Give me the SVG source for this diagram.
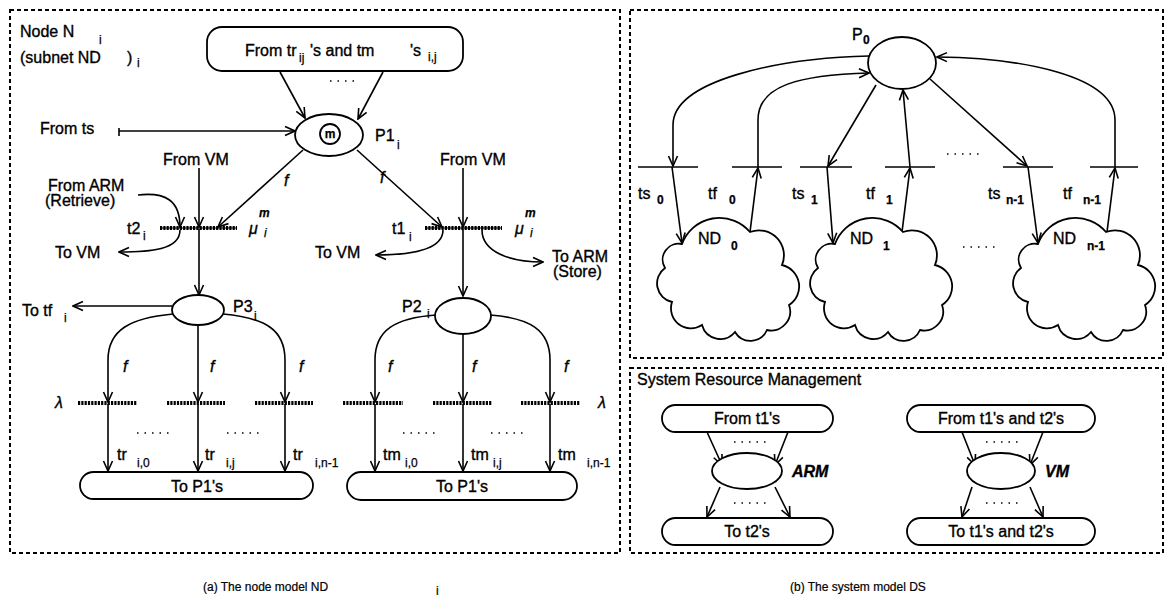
<svg xmlns="http://www.w3.org/2000/svg" width="1167" height="603" viewBox="0 0 1167 603">
<style>
.t{font-family:"Liberation Sans",Arial,sans-serif;font-size:16px;fill:#000;stroke:#000;stroke-width:0.35}
.s{font-family:"Liberation Sans",Arial,sans-serif;font-size:12px;fill:#000;stroke:#000;stroke-width:0.25}
.i{font-style:italic}
.c{font-family:"Liberation Sans",Arial,sans-serif;font-size:12px;fill:#000;stroke:#000;stroke-width:0.2}
.m{text-anchor:middle}
.ln{fill:none;stroke:#000;stroke-width:1.6}
.ar{fill:none;stroke:#000;stroke-width:1.6;marker-end:url(#ah)}
.pl{fill:#fff;stroke:#000;stroke-width:1.8}
.box{fill:#fff;stroke:#000;stroke-width:1.8}
.bd{fill:none;stroke:#000;stroke-width:2;stroke-dasharray:4 3}
.bar{stroke:#000;stroke-width:4;stroke-dasharray:2.2 1.1}
.barc{stroke:#000;stroke-width:1.2}
.tb{stroke:#000;stroke-width:1.6}
.dot{stroke:#000;stroke-width:1.4;stroke-dasharray:1.5 6}
</style>
<defs>
<marker id="ah" markerWidth="12" markerHeight="12" viewBox="0 0 12 12" refX="11" refY="6" orient="auto" markerUnits="userSpaceOnUse"><path d="M1,1.5 L11,6 L1,10.5" fill="none" stroke="#000" stroke-width="1.6"/></marker>
<path id="cloud" d="M-45,-36 A40,40 0 0 1 23,-48 A25,25 0 0 1 55,-15 A22,22 0 0 1 62,25 A19,19 0 0 1 40,50 A18,18 0 0 1 8,52 A19,19 0 0 1 -25,45 A20,20 0 0 1 -55,22 A19,19 0 0 1 -62,-12 A16,16 0 0 1 -45,-36 Z" fill="#fff" stroke="#000" stroke-width="1.8"/>
</defs>
<rect width="1167" height="603" fill="#fff"/>

<!-- panel borders -->
<g id="borders">
<rect class="bd" x="10" y="10" width="610" height="543"/>
<rect class="bd" x="630" y="10" width="533" height="348"/>
<rect class="bd" x="630" y="368" width="533" height="185"/>
</g>

<!-- connectors -->
<g id="connectors">
<path class="ar" d="M280,72 L305,118"/>
<path class="ar" d="M383,72 L358,119"/>
<path class="ar" d="M119,131 L295,131"/>
<path class="ln" d="M119,128 L119,136"/>
<path class="ar" d="M199,168 L199,227"/>
<path class="ar" d="M199,229 L199,295"/>
<path class="ar" d="M138,195 C165,192 180,200 180,227"/>
<path class="ar" d="M303,150 L218,227"/>
<path class="ar" d="M180,230 C180,250 150,252 119,252"/>
<path class="ar" d="M172,306 L73,306"/>
<path class="ar" d="M173,314 C130,318 108,330 108,360 L108,402"/>
<path class="ar" d="M198,325 L198,402"/>
<path class="ar" d="M223,314 C266,318 285,330 285,360 L285,402"/>
<path class="ar" d="M108,404 L108,471"/>
<path class="ar" d="M198,404 L198,471"/>
<path class="ar" d="M285,404 L285,471"/>
<path class="ar" d="M463,168 L463,227"/>
<path class="ar" d="M463,229 L463,296"/>
<path class="ar" d="M357,150 L442,227"/>
<path class="ar" d="M443,230 C443,250 410,255 376,255"/>
<path class="ar" d="M482,230 C482,252 510,262 543,262"/>
<path class="ar" d="M436,315 C395,318 375,330 375,360 L375,402"/>
<path class="ar" d="M463,334 L463,402"/>
<path class="ar" d="M490,315 C530,318 550,330 550,360 L550,402"/>
<path class="ar" d="M375,404 L375,471"/>
<path class="ar" d="M463,404 L463,471"/>
<path class="ar" d="M550,404 L550,471"/>
<!-- right panel -->
<path class="ar" d="M869,56 C780,58 673,80 673,125 L673,166"/>
<path class="ar" d="M672,167 L682,243"/>
<path class="ar" d="M750,232 L758,168"/>
<path class="ar" d="M758,167 L758,120 C758,85 800,75 869,73"/>
<path class="ar" d="M876,85 L828,166"/>
<path class="ar" d="M827,167 L833,243"/>
<path class="ar" d="M902,232 L910,168"/>
<path class="ar" d="M910,167 L903,90"/>
<path class="ar" d="M930,79 L1027,166"/>
<path class="ar" d="M1028,167 L1038,243"/>
<path class="ar" d="M1107,232 L1115,168"/>
<path class="ar" d="M1115,167 L1115,120 C1115,75 1020,58 937,57"/>
<!-- SRM -->
<path class="ar" d="M707,432 L722,465"/>
<path class="ar" d="M788,432 L775,465"/>
<path class="ar" d="M720,487 L707,517"/>
<path class="ar" d="M775,487 L790,517"/>
<path class="ar" d="M962,432 L975,465"/>
<path class="ar" d="M1043,432 L1030,465"/>
<path class="ar" d="M972,487 L962,517"/>
<path class="ar" d="M1030,487 L1043,517"/>
</g>

<!-- left panel nodes -->
<g id="title-a">
<text class="t" x="20" y="37">Node N</text>
<text class="s" x="99" y="44">i</text>
<text class="t" x="20" y="63">(subnet ND</text>
<text class="t" x="127" y="63">)</text>
<text class="s" x="137" y="67">i</text>
</g>
<g id="from-box">
<rect class="box" x="207" y="27" width="256" height="44" rx="15"/>
<text class="t" x="245" y="56">From tr</text>
<text class="s" x="299" y="62" font-size="10">ij</text>
<text class="t" x="310" y="56">'s and tm</text>
<text class="t" x="410" y="56">'s</text>
<text class="s" x="428" y="61">i,j</text>
<line class="dot" x1="330" y1="81" x2="355" y2="81"/>
</g>
<g id="P1">
<ellipse class="pl" cx="329" cy="135" rx="34" ry="21"/>
<circle class="pl" cx="330" cy="134" r="10"/>
<text class="s m" x="330" y="138" font-weight="bold" font-size="10">m</text>
<text class="t" x="375" y="141">P1</text>
<text class="s" x="397" y="149">i</text>
</g>
<g id="labels-left">
<text class="t" x="40" y="134">From ts</text>
<text class="t" x="163" y="165">From VM</text>
<text class="t" x="48" y="191">From ARM</text>
<text class="t" x="45" y="206">(Retrieve)</text>
<text class="t" x="55" y="258">To VM</text>
<text class="t" x="22" y="316">To tf</text>
<text class="s" x="64" y="322">i</text>
<text class="t" x="440" y="165">From VM</text>
<text class="t" x="315" y="258">To VM</text>
<text class="t" x="552" y="262">To ARM</text>
<text class="t" x="553" y="277">(Store)</text>
<text class="t i" x="284" y="186">f</text>
<text class="t i" x="380" y="183">f</text>
</g>
<g id="t2">
<line class="bar" x1="160" y1="228" x2="237" y2="228"/>
<line class="barc" x1="160" y1="228" x2="237" y2="228"/>
<text class="t" x="127" y="234">t2</text>
<text class="s" x="143" y="240">i</text>
<text class="t i" x="249" y="234">μ</text>
<text class="s i" x="259" y="217" font-weight="bold">m</text>
<text class="s i" x="264" y="237">i</text>
</g>
<g id="t1">
<line class="bar" x1="425" y1="228" x2="502" y2="228"/>
<line class="barc" x1="425" y1="228" x2="502" y2="228"/>
<text class="t" x="392" y="234">t1</text>
<text class="s" x="409" y="241">i</text>
<text class="t i" x="515" y="234">μ</text>
<text class="s i" x="525" y="217" font-weight="bold">m</text>
<text class="s i" x="530" y="237">i</text>
</g>
<g id="P3">
<ellipse class="pl" cx="198" cy="310" rx="26" ry="15"/>
<text class="t" x="233" y="312">P3</text>
<text class="s" x="254" y="320">i</text>
</g>
<g id="P2">
<ellipse class="pl" cx="463" cy="316" rx="28" ry="18"/>
<text class="t" x="402" y="312">P2</text>
<text class="s" x="427" y="318">i</text>
</g>
<g id="tr-bars">
<line class="bar" x1="78" y1="403" x2="137" y2="403"/>
<line class="bar" x1="167" y1="403" x2="225" y2="403"/>
<line class="bar" x1="255" y1="403" x2="313" y2="403"/>
<text class="t i" x="55" y="408">λ</text>
<text class="t i" x="123" y="372">f</text>
<text class="t i" x="210" y="372">f</text>
<text class="t i" x="299" y="372">f</text>
<line class="dot" x1="137" y1="433" x2="172" y2="433"/>
<line class="dot" x1="227" y1="433" x2="262" y2="433"/>
<text class="t" x="117" y="460">tr</text>
<text class="s" x="137" y="467">i,0</text>
<text class="t" x="205" y="460">tr</text>
<text class="s" x="226" y="467">i,j</text>
<text class="t" x="293" y="460">tr</text>
<text class="s" x="315" y="467">i,n-1</text>
</g>
<g id="tm-bars">
<line class="bar" x1="343" y1="403" x2="403" y2="403"/>
<line class="bar" x1="433" y1="403" x2="492" y2="403"/>
<line class="bar" x1="521" y1="403" x2="580" y2="403"/>
<text class="t i" x="598" y="408">λ</text>
<text class="t i" x="388" y="372">f</text>
<text class="t i" x="472" y="372">f</text>
<text class="t i" x="564" y="372">f</text>
<line class="dot" x1="403" y1="433" x2="438" y2="433"/>
<line class="dot" x1="491" y1="433" x2="526" y2="433"/>
<text class="t" x="383" y="460">tm</text>
<text class="s" x="405" y="467">i,0</text>
<text class="t" x="471" y="460">tm</text>
<text class="s" x="493" y="467">i,j</text>
<text class="t" x="558" y="460">tm</text>
<text class="s" x="587" y="467">i,n-1</text>
</g>
<g id="to-p1-a">
<rect class="box" x="80" y="472" width="233" height="27" rx="13.5"/>
<text class="t m" x="197" y="492">To P1's</text>
</g>
<g id="to-p1-b">
<rect class="box" x="347" y="472" width="230" height="28" rx="14"/>
<text class="t m" x="462" y="492">To P1's</text>
</g>

<!-- right panel nodes -->
<g id="P0">
<ellipse class="pl" cx="902" cy="63" rx="34" ry="26"/>
<text class="t" x="852" y="40">P</text>
<text class="s" x="863" y="44" font-weight="bold">0</text>
</g>
<g id="ts-bars">
<line class="tb" x1="638" y1="167" x2="698" y2="167"/>
<line class="tb" x1="732" y1="167" x2="782" y2="167"/>
<line class="tb" x1="800" y1="167" x2="852" y2="167"/>
<line class="tb" x1="885" y1="167" x2="935" y2="167"/>
<line class="tb" x1="1003" y1="167" x2="1053" y2="167"/>
<line class="tb" x1="1090" y1="167" x2="1138" y2="167"/>
<line class="dot" x1="947" y1="154" x2="982" y2="154"/>
<text class="t" x="638" y="199">ts</text>
<text class="s" x="657" y="204" font-weight="bold">0</text>
<text class="t" x="708" y="199">tf</text>
<text class="s" x="729" y="204" font-weight="bold">0</text>
<text class="t" x="792" y="199">ts</text>
<text class="s" x="811" y="204" font-weight="bold">1</text>
<text class="t" x="866" y="199">tf</text>
<text class="s" x="886" y="204" font-weight="bold">1</text>
<text class="t" x="988" y="199">ts</text>
<text class="s" x="1006" y="204" font-weight="bold">n-1</text>
<text class="t" x="1063" y="199">tf</text>
<text class="s" x="1083" y="204" font-weight="bold">n-1</text>
</g>
<g id="ND0">
<use href="#cloud" x="727" y="280"/>
<text class="t" x="698" y="244">ND</text>
<text class="s" x="731" y="250" font-weight="bold">0</text>
</g>
<g id="ND1">
<use href="#cloud" x="880" y="280"/>
<text class="t" x="850" y="244">ND</text>
<text class="s" x="883" y="250" font-weight="bold">1</text>
</g>
<line class="dot" x1="963" y1="247" x2="995" y2="247"/>
<g id="NDn1">
<use href="#cloud" x="1083" y="280"/>
<text class="t" x="1053" y="244">ND</text>
<text class="s" x="1087" y="250" font-weight="bold">n-1</text>
</g>

<!-- SRM -->
<text class="t" x="637" y="385">System Resource Management</text>
<g id="arm-from">
<rect class="box" x="662" y="405" width="171" height="27" rx="13.5"/>
<text class="t m" x="747" y="424">From t1's</text>
</g>
<g id="ARM">
<ellipse class="pl" cx="747" cy="471" rx="35" ry="18"/>
<text class="t i" x="792" y="477" font-weight="bold" font-size="14">ARM</text>
<line class="dot" x1="734" y1="442" x2="766" y2="442"/>
<line class="dot" x1="734" y1="503" x2="766" y2="503"/>
</g>
<g id="arm-to">
<rect class="box" x="662" y="518" width="171" height="27" rx="13.5"/>
<text class="t m" x="747" y="537">To t2's</text>
</g>
<g id="vm-from">
<rect class="box" x="907" y="405" width="188" height="27" rx="13.5"/>
<text class="t m" x="1001" y="424">From t1's and t2's</text>
</g>
<g id="VM">
<ellipse class="pl" cx="1001" cy="471" rx="34" ry="18"/>
<text class="t i" x="1045" y="477" font-weight="bold" font-size="14">VM</text>
<line class="dot" x1="986" y1="442" x2="1018" y2="442"/>
<line class="dot" x1="986" y1="503" x2="1018" y2="503"/>
</g>
<g id="vm-to">
<rect class="box" x="907" y="518" width="188" height="27" rx="13.5"/>
<text class="t m" x="1001" y="537">To t1's and t2's</text>
</g>

<!-- captions -->
<g id="captions">
<text class="c" x="203" y="591">(a) The node model ND</text>
<text class="c" x="436" y="595">i</text>
<text class="c" x="790" y="591">(b) The system model DS</text>
</g>
</svg>
